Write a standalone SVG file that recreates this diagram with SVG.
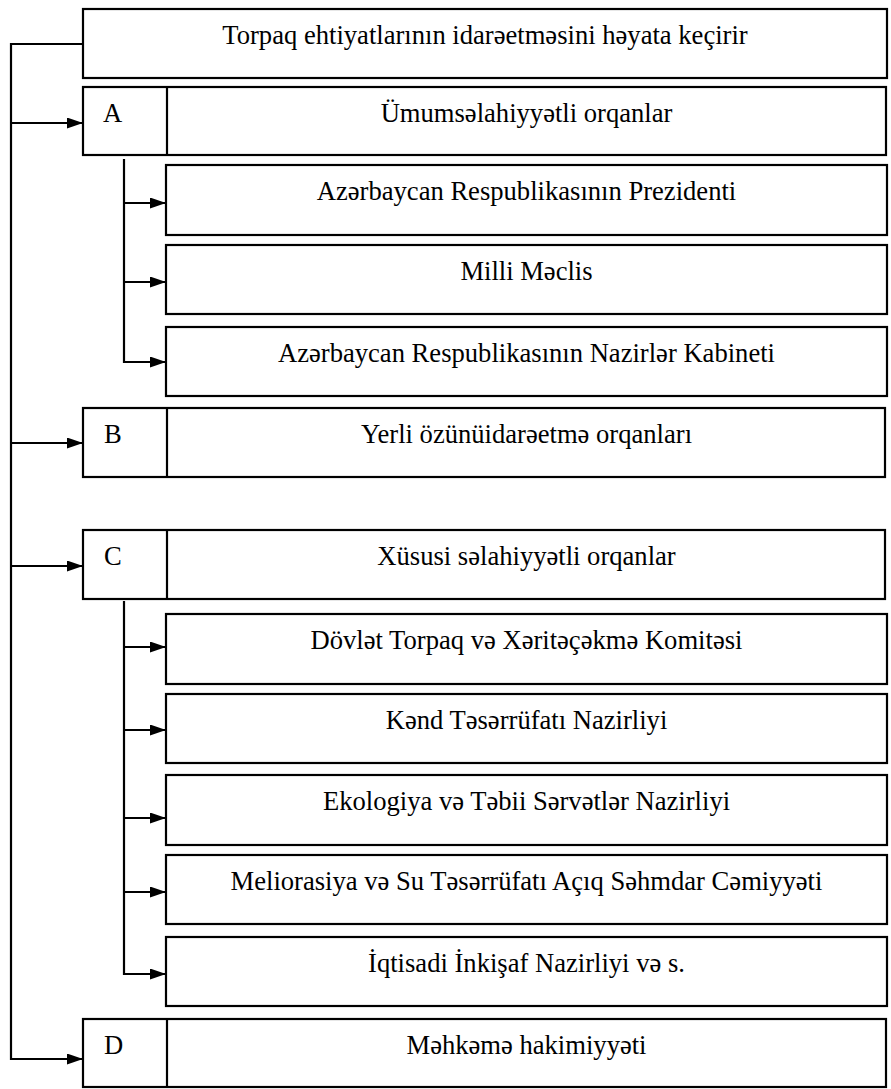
<svg xmlns="http://www.w3.org/2000/svg" width="891" height="1089" viewBox="0 0 891 1089">
<defs>
<marker id="arr" markerUnits="userSpaceOnUse" markerWidth="16" markerHeight="11" refX="16" refY="5.5" orient="auto">
<path d="M0,0 L16,5.5 L0,11 Z" fill="#000"/>
</marker>
<style>
.box{fill:#fff;stroke:#000;stroke-width:2.2}
.div{stroke:#000;stroke-width:2.2}
.t{font-family:"Liberation Serif","Times New Roman",serif;font-size:26.6px;fill:#000}
.c{text-anchor:middle}
.conn{fill:none;stroke:#000;stroke-width:2.2}
</style>
</defs>
<rect width="891" height="1089" fill="#fff"/>
<g id="connectors">
<path class="conn" d="M83,44 H11 V1059 H67"/>
<line class="conn" x1="11" y1="123" x2="83" y2="123" marker-end="url(#arr)"/>
<line class="conn" x1="11" y1="443" x2="83" y2="443" marker-end="url(#arr)"/>
<line class="conn" x1="11" y1="566" x2="83" y2="566" marker-end="url(#arr)"/>
<line class="conn" x1="11" y1="1059" x2="83" y2="1059" marker-end="url(#arr)"/>
<line class="conn" x1="124" y1="159" x2="124" y2="363"/>
<line class="conn" x1="124" y1="203" x2="166" y2="203" marker-end="url(#arr)"/>
<line class="conn" x1="124" y1="282" x2="166" y2="282" marker-end="url(#arr)"/>
<line class="conn" x1="124" y1="362" x2="166" y2="362" marker-end="url(#arr)"/>
<line class="conn" x1="124" y1="601" x2="124" y2="975"/>
<line class="conn" x1="124" y1="647" x2="166" y2="647" marker-end="url(#arr)"/>
<line class="conn" x1="124" y1="730" x2="166" y2="730" marker-end="url(#arr)"/>
<line class="conn" x1="124" y1="818" x2="166" y2="818" marker-end="url(#arr)"/>
<line class="conn" x1="124" y1="892" x2="166" y2="892" marker-end="url(#arr)"/>
<line class="conn" x1="124" y1="974" x2="166" y2="974" marker-end="url(#arr)"/>
</g>
<g id="title">
<rect class="box" x="83" y="9" width="804" height="69"/>
<text class="t c" x="485" y="44">Torpaq ehtiyatlarının idarəetməsini həyata keçirir</text>
</g>
<g id="nodeA">
<rect class="box" x="83" y="87" width="803" height="68"/>
<line class="div" x1="167" y1="87" x2="167" y2="155"/>
<text class="t" x="103" y="122">A</text>
<text class="t c" x="526.5" y="122">Ümumsəlahiyyətli orqanlar</text>
</g>
<g id="nodeA1">
<rect class="box" x="166" y="165" width="721" height="70"/>
<text class="t c" x="526.5" y="200">Azərbaycan Respublikasının Prezidenti</text>
</g>
<g id="nodeA2">
<rect class="box" x="166" y="245" width="721" height="69"/>
<text class="t c" x="526.5" y="280">Milli Məclis</text>
</g>
<g id="nodeA3">
<rect class="box" x="166" y="327" width="721" height="69"/>
<text class="t c" x="526.5" y="362">Azərbaycan Respublikasının Nazirlər Kabineti</text>
</g>
<g id="nodeB">
<rect class="box" x="83" y="408" width="802" height="69"/>
<line class="div" x1="167" y1="408" x2="167" y2="477"/>
<text class="t" x="104" y="443">B</text>
<text class="t c" x="526.5" y="443">Yerli özünüidarəetmə orqanları</text>
</g>
<g id="nodeC">
<rect class="box" x="83" y="530" width="802" height="69"/>
<line class="div" x1="167" y1="530" x2="167" y2="599"/>
<text class="t" x="104" y="565">C</text>
<text class="t c" x="526.5" y="565">Xüsusi səlahiyyətli orqanlar</text>
</g>
<g id="nodeC1">
<rect class="box" x="166" y="614" width="721" height="70"/>
<text class="t c" x="526.5" y="649">Dövlət Torpaq və Xəritəçəkmə Komitəsi</text>
</g>
<g id="nodeC2">
<rect class="box" x="166" y="694" width="721" height="69"/>
<text class="t c" x="526.5" y="729">Kənd Təsərrüfatı Nazirliyi</text>
</g>
<g id="nodeC3">
<rect class="box" x="166" y="775" width="721" height="70"/>
<text class="t c" x="526.5" y="810">Ekologiya və Təbii Sərvətlər Nazirliyi</text>
</g>
<g id="nodeC4">
<rect class="box" x="166" y="855" width="721" height="69"/>
<text class="t c" x="526.5" y="890">Meliorasiya və Su Təsərrüfatı Açıq Səhmdar Cəmiyyəti</text>
</g>
<g id="nodeC5">
<rect class="box" x="166" y="937" width="721" height="69"/>
<text class="t c" x="526.5" y="972">İqtisadi İnkişaf Nazirliyi və s.</text>
</g>
<g id="nodeD">
<rect class="box" x="83" y="1019" width="803" height="68"/>
<line class="div" x1="167" y1="1019" x2="167" y2="1087"/>
<text class="t" x="104" y="1054">D</text>
<text class="t c" x="526.5" y="1054">Məhkəmə hakimiyyəti</text>
</g>
</svg>
